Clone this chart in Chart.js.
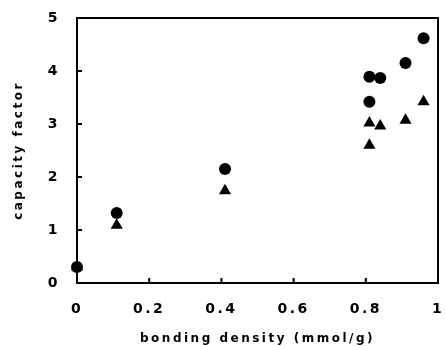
<!DOCTYPE html>
<html>
<head>
<meta charset="utf-8">
<script src="https://cdn.jsdelivr.net/npm/chart.js@4/dist/chart.umd.min.js"></script>
<style>
  html, body { margin: 0; padding: 0; background: #fff; }
  #wrap { width: 445px; height: 346px; }
</style>
</head>
<body>
<div id="wrap"><canvas id="plot"></canvas></div>
<script>
// bonding density (mmol/g) vs capacity factor
const circleX = [0, 0.11, 0.41, 0.81, 0.81, 0.84, 0.91, 0.96];
const circleY = [0.30, 1.32, 2.15, 3.89, 3.42, 3.87, 4.15, 4.62];
const triangleX = [0, 0.11, 0.41, 0.81, 0.81, 0.84, 0.91, 0.96];
const triangleY = [0.30, 1.09, 1.74, 3.02, 2.60, 2.96, 3.07, 3.42];
const xTicks = [0, 0.2, 0.4, 0.6, 0.8, 1];
const yTicks = [0, 1, 2, 3, 4, 5];

const pairs = (xs, ys) => xs.map((x, i) => ({ x: x, y: ys[i] }));

// frame around the plot + ticks pointing inward, like the original figure
const framePlugin = {
    id: 'frame',
    beforeDraw(chart) {
        chart.ctx.letterSpacing = '2.5px';
    },
    afterDraw(chart) {
        const { ctx, chartArea: a, scales } = chart;
        ctx.save();
        ctx.strokeStyle = '#000';
        ctx.lineWidth = 2;
        ctx.strokeRect(a.left, a.top, a.right - a.left, a.bottom - a.top);
        ctx.beginPath();
        xTicks.forEach(v => {
            const px = scales.x.getPixelForValue(v);
            ctx.moveTo(px, a.bottom);
            ctx.lineTo(px, a.bottom - 5);
        });
        yTicks.forEach(v => {
            const py = scales.y.getPixelForValue(v);
            ctx.moveTo(a.left, py);
            ctx.lineTo(a.left + 5, py);
        });
        ctx.stroke();
        ctx.restore();
    }
};

const tickFont = { family: 'DejaVu Sans', size: 14, weight: 'bold' };
const titleFont = { family: 'DejaVu Sans', size: 12, weight: 'bold' };

new Chart(document.getElementById('plot'), {
    type: 'scatter',
    data: {
        datasets: [
            {
                label: 'triangles',
                data: pairs(triangleX, triangleY),
                pointStyle: 'triangle',
                pointRadius: 7,
                backgroundColor: '#000',
                borderColor: '#000',
                borderWidth: 0,
                clip: false
            },
            {
                label: 'circles',
                data: pairs(circleX, circleY),
                pointStyle: 'circle',
                pointRadius: 6,
                backgroundColor: '#000',
                borderColor: '#000',
                borderWidth: 0,
                clip: false
            }
        ]
    },
    options: {
        responsive: true,
        maintainAspectRatio: false,
        animation: false,
        layout: { padding: { top: 18, right: 4, left: 0, bottom: 0 } },
        plugins: {
            legend: { display: false },
            tooltip: { enabled: false }
        },
        scales: {
            x: {
                type: 'linear',
                min: 0,
                max: 1,
                afterBuildTicks: s => { s.ticks = xTicks.map(v => ({ value: v })); },
                afterFit: s => { s.height = 63; s.paddingLeft = 0; s.paddingRight = 0; },
                grid: { display: false, drawTicks: false },
                border: { display: false },
                ticks: {
                    color: '#000',
                    padding: 18,
                    maxRotation: 0,
                    callback: v => String(v),
                    font: tickFont
                },
                title: {
                    display: true,
                    text: 'bonding density (mmol/g)',
                    color: '#000',
                    padding: { top: 0, bottom: 0 },
                    font: titleFont
                }
            },
            y: {
                type: 'linear',
                min: 0,
                max: 5,
                afterBuildTicks: s => { s.ticks = yTicks.map(v => ({ value: v })); },
                afterFit: s => { s.width = 77; s.paddingTop = 0; s.paddingBottom = 0; },
                grid: { display: false, drawTicks: false },
                border: { display: false },
                ticks: {
                    color: '#000',
                    padding: 17,
                    callback: v => String(v),
                    font: tickFont
                },
                title: {
                    display: true,
                    text: 'capacity factor',
                    color: '#000',
                    padding: { top: 12, bottom: 0 },
                    font: titleFont
                }
            }
        }
    },
    plugins: [framePlugin]
});
</script>
</body>
</html>
